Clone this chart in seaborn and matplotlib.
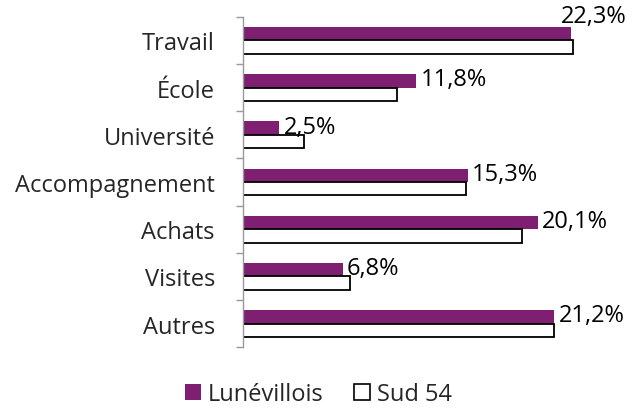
import numpy as np
import pandas as pd
import matplotlib
matplotlib.use("Agg")
import matplotlib.pyplot as plt
import seaborn as sns
from matplotlib.patches import Patch

categories = ["Travail", "École", "Université", "Accompagnement", "Achats", "Visites", "Autres"]
lunevillois = [22.3, 11.8, 2.5, 15.3, 20.1, 6.8, 21.2]
sud54 = [22.5, 10.5, 4.2, 15.2, 19.0, 7.3, 21.2]
series = ["Lunévillois", "Sud 54"]

purple = "#7f1f72"

sns.set_style("white")
plt.rcParams["font.family"] = ["Open Sans", "DejaVu Sans"]

df = pd.DataFrame({
    "cat": categories * 2,
    "val": lunevillois + sud54,
    "serie": [series[0]] * len(categories) + [series[1]] * len(categories),
})

fig = plt.figure(figsize=(6.37, 4.14), dpi=100)
ax = fig.add_axes([0.381, 0.159, 0.57, 0.798])

sns.barplot(data=df, y="cat", x="val", hue="serie", orient="h",
            palette=[purple, "white"], width=0.57, gap=0, dodge=True,
            legend=False, ax=ax, saturation=1)

for p in ax.containers[0]:
    p.set_edgecolor("none")
for p in ax.containers[1]:
    p.set_edgecolor("black")
    p.set_linewidth(1.3)

# labels for the purple series (the longest one goes above its bar, like excel does)
for p, v in zip(ax.containers[0], lunevillois):
    txt = f"{v:.1f}%".replace(".", ",")
    if v == max(lunevillois):
        ax.annotate(txt, xy=(v, p.get_y()), xytext=(-7, -1),
                    textcoords="offset points", va="bottom", ha="left",
                    fontsize=17, color="black", annotation_clip=False)
    else:
        y = p.get_y() + p.get_height() / 2
        ax.annotate(txt, xy=(v, y), xytext=(3, 1),
                    textcoords="offset points", va="center", ha="left",
                    fontsize=17, color="black", annotation_clip=False)

ax.set_xlim(0, 24.7)
ax.set_ylim(len(categories) - 0.5, -0.5)
ax.set_xlabel("")
ax.set_ylabel("")
ax.set_xticks([])
ax.set_yticks(np.arange(-0.5, len(categories), 1))
ax.set_yticklabels([])
ax.set_yticks(np.arange(len(categories)), minor=True)
ax.set_yticklabels(categories, minor=True, fontsize=17)
ax.tick_params(axis="y", which="major", length=5, width=1, color="#999999", left=True, direction="out")
ax.tick_params(axis="y", which="minor", length=0, pad=20)
for s in ["top", "right", "bottom"]:
    ax.spines[s].set_visible(False)
ax.spines["left"].set_color("#999999")
ax.spines["left"].set_linewidth(1)

handles = [Patch(facecolor=purple, edgecolor="none"),
           Patch(facecolor="white", edgecolor="black", linewidth=1.2)]
fig.legend(handles, series, loc="lower center", bbox_to_anchor=(0.5, -0.035), ncol=2,
           frameon=False, fontsize=17, handlelength=0.65, handleheight=0.65,
           handletextpad=0.3, columnspacing=1.3)

fig.savefig("out.png", dpi=100)
